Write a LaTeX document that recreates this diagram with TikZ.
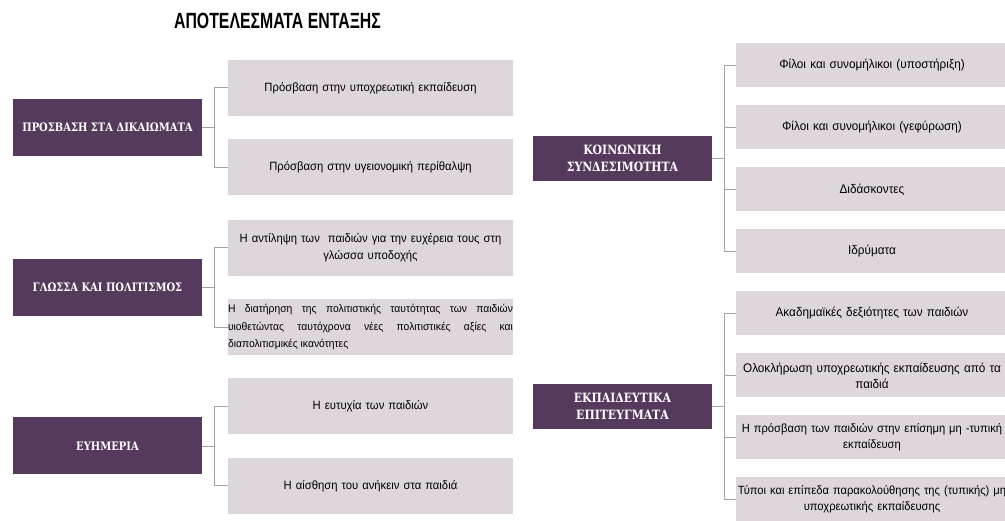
\documentclass[tikz,border=0pt]{standalone}
\usepackage{fontspec}
\setmainfont[FakeStretch=0.94]{Liberation Sans}
\newfontfamily\titlefont[FakeStretch=0.72]{Liberation Sans}
\newfontfamily\catfont[FakeStretch=0.85]{DejaVu Serif}
\definecolor{catpurple}{HTML}{563A5E}
\definecolor{leafgray}{HTML}{DDD6DD}
\definecolor{forkgray}{HTML}{A99DA9}
\hyphenpenalty=10000
\exhyphenpenalty=10000

\begin{document}
\begin{tikzpicture}[x=1pt,y=1pt,grow'=right,every text node part/.style={align=center},
cat/.style={fill=catpurple,text=white,inner sep=0pt},
lcat/.style={cat,minimum width=189,minimum height=57,font=\catfont\bfseries\fontsize{11.7}{14}\selectfont},
rcat/.style={cat,minimum width=179,minimum height=45,font=\catfont\bfseries\fontsize{12.8}{17}\selectfont},
leaf/.style={fill=leafgray,inner sep=0pt},
lleaf/.style={leaf,text width=285,minimum height=56,font=\fontsize{12}{17.5}\selectfont},
rleaf/.style={leaf,text width=272,minimum height=44,font=\fontsize{12.5}{16}\selectfont},
edge from parent/.style={draw=forkgray,line width=0.9pt},
edge from parent path={(\tikzparentnode.east) -- ++(12,0) |- (\tikzchildnode.west)}]
\useasboundingbox (0,0) rectangle (1005,521);
\clip (0,0) rectangle (1005,521);
\node (title) at (277.5,500) {\titlefont\bfseries\fontsize{22}{26}\selectfont ΑΠΟΤΕΛΕΣΜΑΤΑ ΕΝΤΑΞΗΣ};
\node (rights) [lcat] at (107.5,393.5) {ΠΡΟΣΒΑΣΗ ΣΤΑ ΔΙΚΑΙΩΜΑΤΑ} [level distance=263,sibling distance=79.5]
	child{ node (rights1) [lleaf] {Πρόσβαση στην υποχρεωτική εκπαίδευση}}
	child{ node (rights2) [lleaf] {Πρόσβαση στην υγειονομική περίθαλψη}};
\node (lang) [lcat] at (107.5,233.5) {ΓΛΩΣΣΑ ΚΑΙ ΠΟΛΙΤΙΣΜΟΣ} [level distance=263,sibling distance=79.5]
	child{ node (lang1) [lleaf] {Η αντίληψη των~ παιδιών για την ευχέρεια τους στη\\γλώσσα υποδοχής}}
	child{ node (lang2) [lleaf,every text node part/.style={align=justify},font=\fontsize{11}{17.5}\selectfont] {Η διατήρηση της πολιτιστικής ταυτότητας των παιδιών\linebreak υιοθετώντας ταυτόχρονα νέες πολιτιστικές αξίες και\linebreak διαπολιτισμικές ικανότητες}};
\node (wellb) [lcat] at (107.5,75) {ΕΥΗΜΕΡΙΑ} [level distance=263,sibling distance=79.5]
	child{ node (wellb1) [lleaf] {Η ευτυχία των παιδιών}}
	child{ node (wellb2) [lleaf] {Η αίσθηση του ανήκειν στα παιδιά}};
\node (social) [rcat] at (622.5,362.5) {ΚΟΙΝΩΝΙΚΗ\\ΣΥΝΔΕΣΙΜΟΤΗΤΑ} [level distance=249.5,sibling distance=62]
	child{ node (social1) [rleaf] {Φίλοι και συνομήλικοι (υποστήριξη)}}
	child{ node (social2) [rleaf] {Φίλοι και συνομήλικοι (γεφύρωση)}}
	child{ node (social3) [rleaf] {Διδάσκοντες}}
	child{ node (social4) [rleaf] {Ιδρύματα}};
\node (edu) [rcat] at (622.5,114.5) {ΕΚΠΑΙΔΕΥΤΙΚΑ\\ΕΠΙΤΕΥΓΜΑΤΑ} [level distance=249.5,sibling distance=62]
	child{ node (edu1) [rleaf] {Ακαδημαϊκές δεξιότητες των παιδιών}}
	child{ node (edu2) [rleaf] {Ολοκλήρωση υποχρεωτικής εκπαίδευσης από τα\\παιδιά}}
	child{ node (edu3) [rleaf,font=\fontsize{11.9}{16}\selectfont] {\mbox{Η πρόσβαση των παιδιών στην επίσημη μη -τυπική}\\εκπαίδευση}}
	child{ node (edu4) [rleaf,font=\fontsize{11.9}{16}\selectfont] {\mbox{Τύποι και επίπεδα παρακολούθησης της (τυπικής) μη}\\υποχρεωτικής εκπαίδευσης}};
\end{tikzpicture}
\end{document}
